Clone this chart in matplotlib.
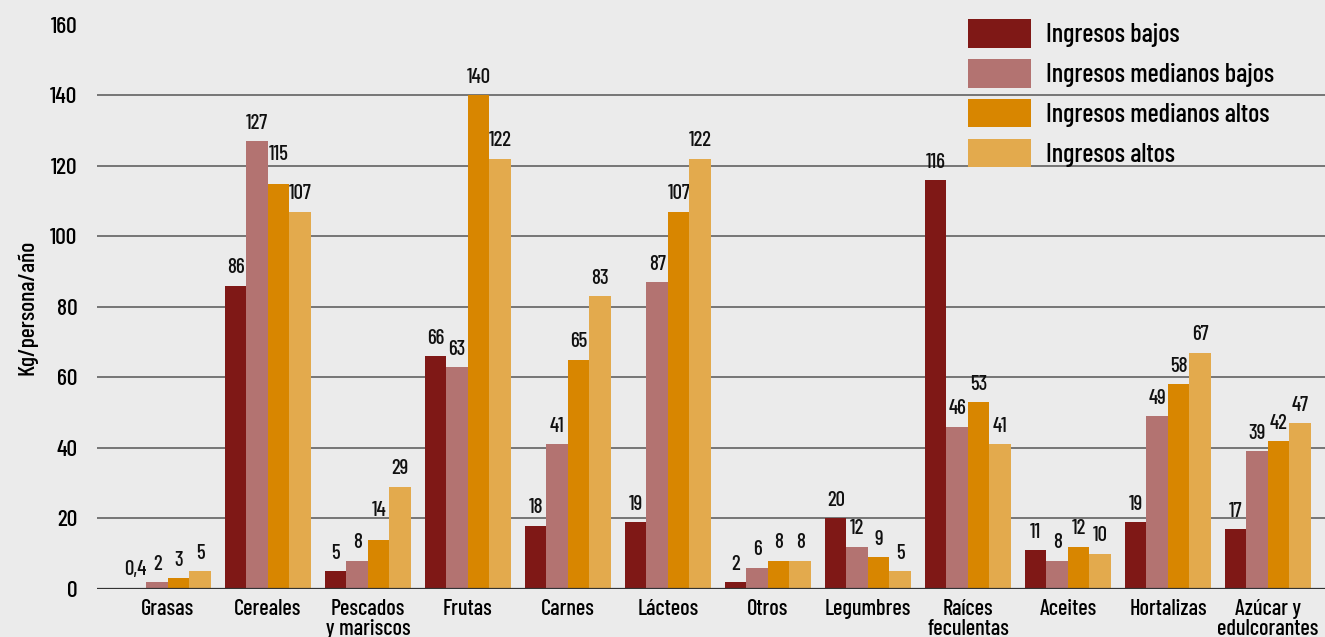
import matplotlib.pyplot as plt
import numpy as np

categories = ['Grasas', 'Cereales', 'Pescados\ny mariscos', 'Frutas', 'Carnes', 'Lácteos',
              'Otros', 'Legumbres', 'Raíces\nfeculentas', 'Aceites', 'Hortalizas', 'Azúcar y\nedulcorantes']
series_names = ['Ingresos bajos', 'Ingresos medianos bajos', 'Ingresos medianos altos', 'Ingresos altos']

bajos = [0.4, 86, 5, 66, 18, 19, 2, 20, 116, 11, 19, 17]
medianos_bajos = [2, 127, 8, 63, 41, 87, 6, 12, 46, 8, 49, 39]
medianos_altos = [3, 115, 14, 140, 65, 107, 8, 9, 53, 12, 58, 42]
altos = [5, 107, 29, 122, 83, 122, 8, 5, 41, 10, 67, 47]

colors = ['#7f1816', '#b37371', '#d88600', '#e3aa4d']
bg = '#ebebeb'

plt.rcParams['font.family'] = ['Barlow Condensed', 'DejaVu Sans']

fig = plt.figure(figsize=(13.25, 6.37), dpi=100, facecolor=bg)
ax = fig.add_axes([0.0732, 0.0754, 0.9268, 0.8856], facecolor=bg)

x = np.arange(len(categories))
w = 0.215
data = [bajos, medianos_bajos, medianos_altos, altos]
for i, vals in enumerate(data):
    pos = x + (i - 1.5) * w
    bars = ax.bar(pos, vals, width=w, color=colors[i], label=series_names[i], zorder=3)
    for j, (b, v) in enumerate(zip(bars, vals)):
        txt = '0,4' if v < 1 else str(int(v))
        # a couple of labels sit higher in the original to avoid touching neighbours
        off = 14 if (i == 2 and j in (1, 2)) else 6
        ax.annotate(txt, (b.get_x() + b.get_width() / 2, v), xytext=(0, off),
                    textcoords='offset points', ha='center', va='bottom', fontsize=15,
                    fontweight='medium', color='#111111')

ax.set_xlim(-0.71, 11.57)
ax.set_ylim(0, 160)
ax.set_yticks(range(0, 161, 20))
for y in range(20, 141, 20):
    ax.axhline(y, color='#555555', lw=1.1, zorder=1)
ax.axhline(0, color='#333333', lw=1.6, zorder=4)

for s in ax.spines.values():
    s.set_visible(False)
ax.set_xticks(x)
ax.set_xticklabels(categories, fontsize=16, linespacing=1.0, va='top', fontweight='medium')
ax.tick_params(axis='x', length=0, pad=7)
ax.tick_params(axis='y', length=0, pad=14, labelsize=17)
for t in ax.get_yticklabels():
    t.set_fontweight('medium')
ax.set_ylabel('Kg/persona/año', fontsize=17, labelpad=9, fontweight='medium')

ax.legend(loc='upper left', bbox_to_anchor=(968 / 1325, 1 - 19 / 637), bbox_transform=fig.transFigure,
          frameon=False, prop={'size': 19, 'weight': 'medium'}, handlelength=2.4, handleheight=1.3,
          labelspacing=0.42, handletextpad=0.55, borderpad=0, borderaxespad=0)

fig.savefig('out.png', dpi=100, facecolor=bg)
